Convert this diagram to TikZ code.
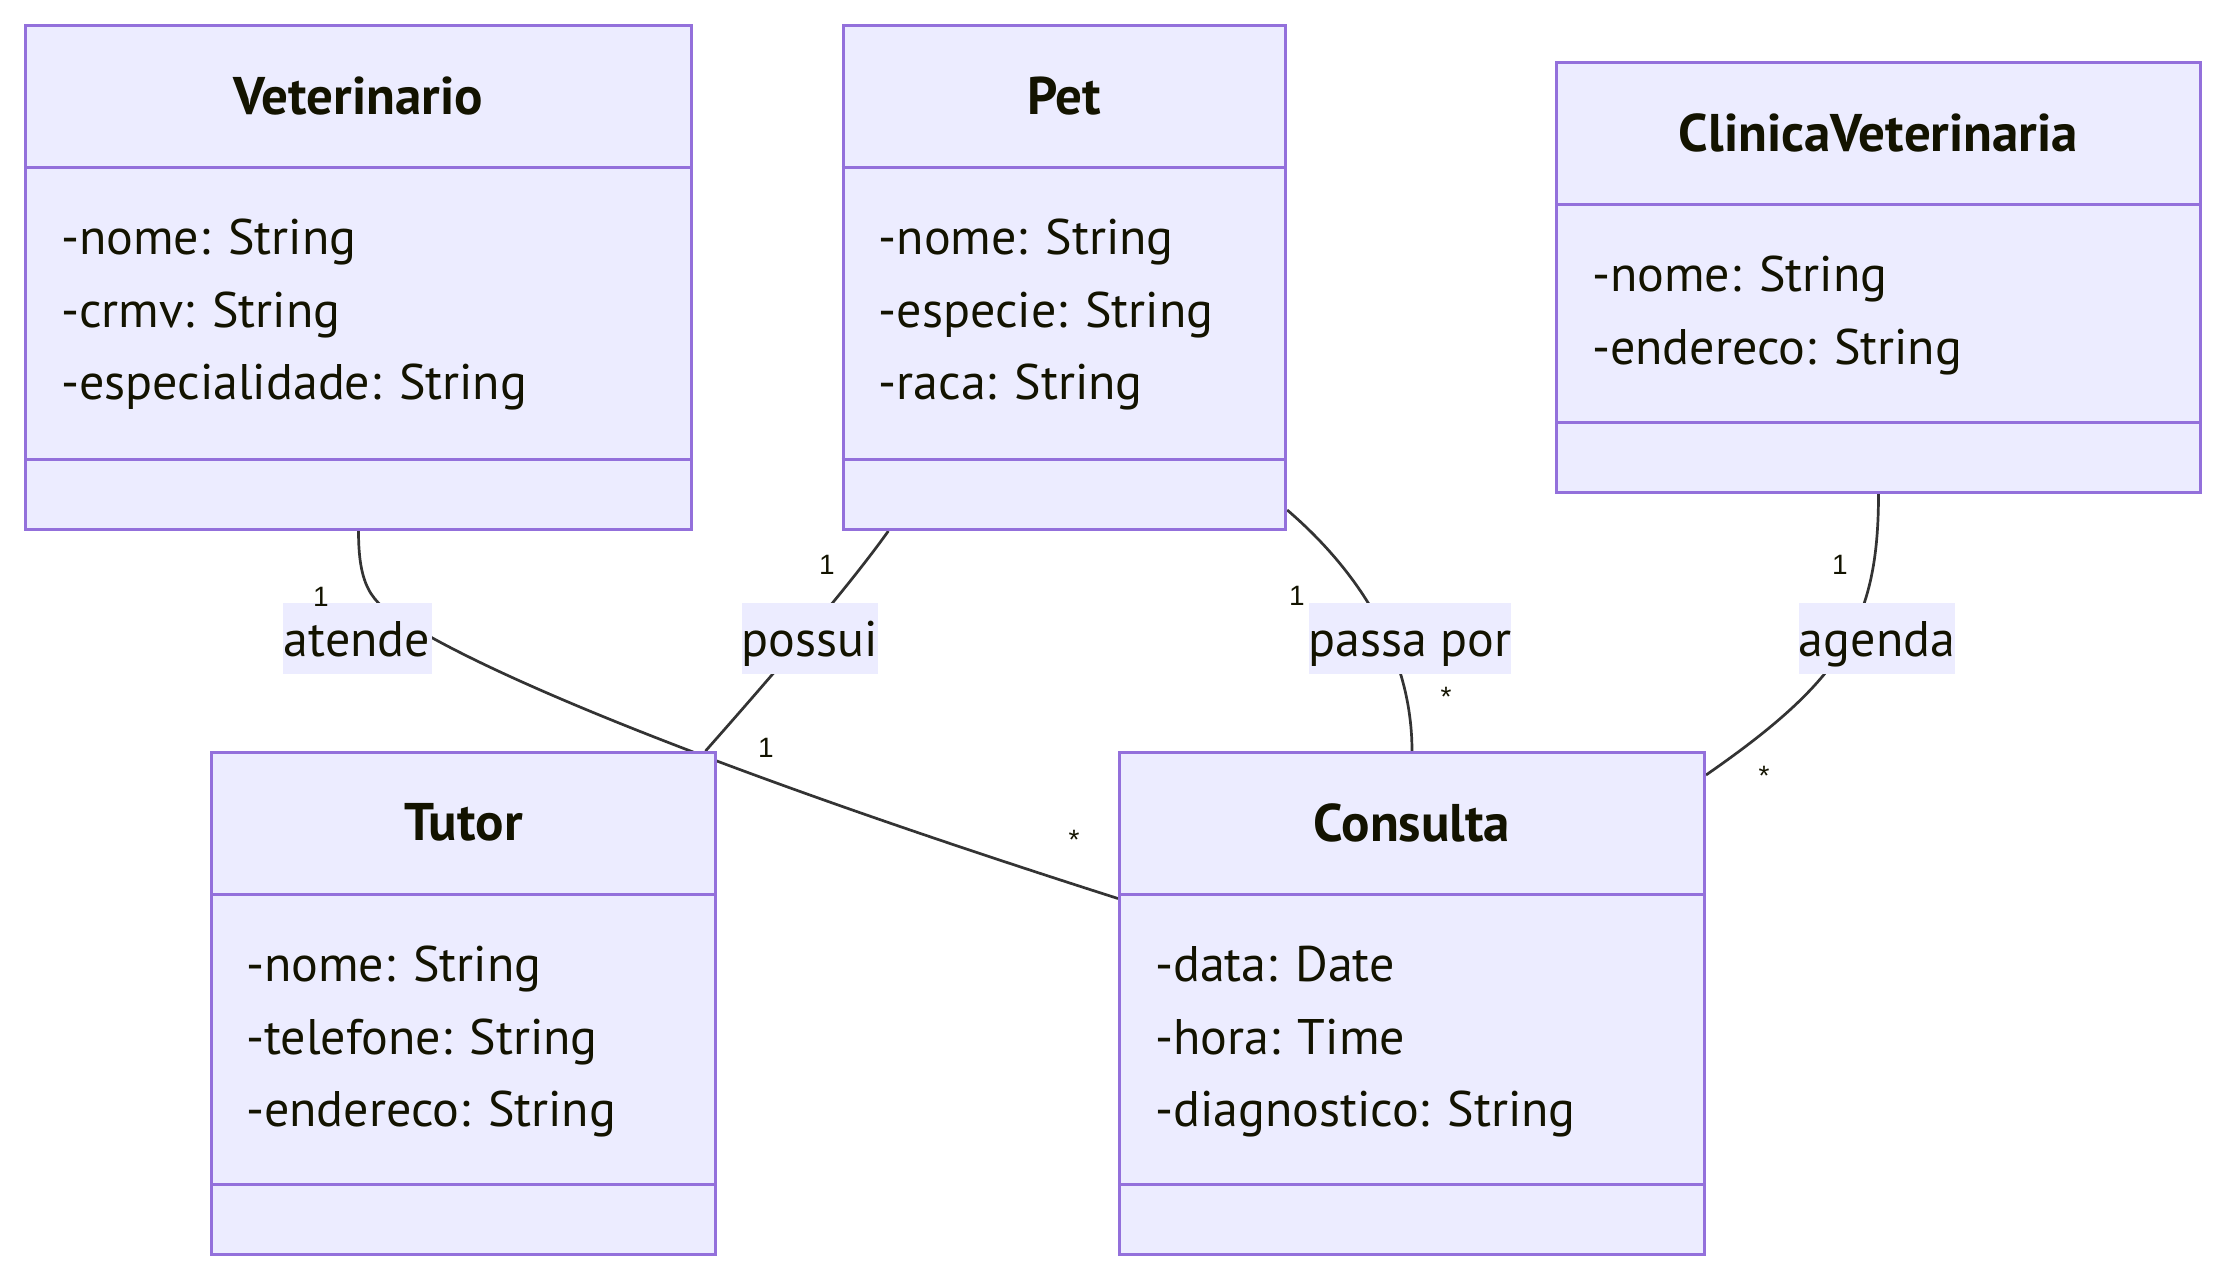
\documentclass[tikz,border=0pt]{standalone}
\usepackage{fontspec}
\setmainfont{PT Sans}
\newfontfamily\multfont{Liberation Sans}
\usetikzlibrary{positioning, backgrounds}
\definecolor{classfill}{HTML}{ECECFF}
\definecolor{classline}{HTML}{9370DB}
\definecolor{classtext}{HTML}{131300}
\definecolor{edgeline}{HTML}{333333}

\tikzset{
  classbox/.style={draw=classline, fill=classfill, line width=3pt, anchor=north west, inner sep=0pt},
  divider/.style={draw=classline, line width=3pt},
  classtitle/.style={text=classtext, font=\fontsize{53}{63}\selectfont\bfseries, inner sep=0pt},
  attr/.style={text=classtext, font=\fontsize{50}{60}\selectfont, anchor=west, inner sep=0pt,
    text height=37pt, text depth=12pt},
  assoc/.style={draw=edgeline, line width=2.7pt},
  assoclabel/.style={fill=classfill, text=classtext, font=\fontsize{50}{60}\selectfont, inner sep=0pt,
    text height=44pt, text depth=9pt, minimum height=71pt},
  mult/.style={text=classtext, font=\multfont\fontsize{28}{33}\selectfont, inner sep=0pt}
}

\begin{document}
\begin{tikzpicture}[x=1pt, y=-1pt]
    \useasboundingbox (0,0) rectangle (2225,1278);

    % Veterinario
    \node[classbox, minimum width=666pt, minimum height=504pt] (vet) at (24,24) {};
    \node[classtitle] (vet-t) at ([yshift=-71.6pt]vet.north) {Veterinario};
    \draw[divider] ([yshift=-143.3pt]vet.north west) -- ([yshift=-143.3pt]vet.north east);
    \draw[divider] ([yshift=71.5pt]vet.south west) -- ([yshift=71.5pt]vet.south east);
    \foreach \a [count=\i] in {{-nome: String}, {-crmv: String}, {-especialidade: String}}
        \node[attr] (vet-a\i) at ([xshift=37pt, yshift={-145.8-72.4*\i}]vet.north west) {\a};

    % Pet
    \node[classbox, minimum width=442.7pt, minimum height=504pt] (pet) at (841.5,24) {};
    \node[classtitle] (pet-t) at ([yshift=-71.6pt]pet.north) {Pet};
    \draw[divider] ([yshift=-143.3pt]pet.north west) -- ([yshift=-143.3pt]pet.north east);
    \draw[divider] ([yshift=71.5pt]pet.south west) -- ([yshift=71.5pt]pet.south east);
    \foreach \a [count=\i] in {{-nome: String}, {-especie: String}, {-raca: String}}
        \node[attr] (pet-a\i) at ([xshift=37pt, yshift={-145.8-72.4*\i}]pet.north west) {\a};

    % ClinicaVeterinaria
    \node[classbox, minimum width=644pt, minimum height=430pt] (clinic) at (1555,61) {};
    \node[classtitle] (clinic-t) at ([yshift=-71.6pt]clinic.north) {ClinicaVeterinaria};
    \draw[divider] ([yshift=-143.3pt]clinic.north west) -- ([yshift=-143.3pt]clinic.north east);
    \draw[divider] ([yshift=71.5pt]clinic.south west) -- ([yshift=71.5pt]clinic.south east);
    \foreach \a [count=\i] in {{-nome: String}, {-endereco: String}}
        \node[attr] (clinic-a\i) at ([xshift=37pt, yshift={-145.8-72.4*\i}]clinic.north west) {\a};

    % Tutor
    \node[classbox, minimum width=504pt, minimum height=502pt] (tutor) at (210,751) {};
    \node[classtitle] (tutor-t) at ([yshift=-71.6pt]tutor.north) {Tutor};
    \draw[divider] ([yshift=-143.3pt]tutor.north west) -- ([yshift=-143.3pt]tutor.north east);
    \draw[divider] ([yshift=71.5pt]tutor.south west) -- ([yshift=71.5pt]tutor.south east);
    \foreach \a [count=\i] in {{-nome: String}, {-telefone: String}, {-endereco: String}}
        \node[attr] (tutor-a\i) at ([xshift=36pt, yshift={-145.8-72.4*\i}]tutor.north west) {\a};

    % Consulta
    \node[classbox, minimum width=585pt, minimum height=502pt] (cons) at (1118,751) {};
    \node[classtitle] (cons-t) at ([yshift=-71.6pt]cons.north) {Consulta};
    \draw[divider] ([yshift=-143.3pt]cons.north west) -- ([yshift=-143.3pt]cons.north east);
    \draw[divider] ([yshift=71.5pt]cons.south west) -- ([yshift=71.5pt]cons.south east);
    \foreach \a [count=\i] in {{-data: Date}, {-hora: Time}, {-diagnostico: String}}
        \node[attr] (cons-a\i) at ([xshift=37pt, yshift={-145.8-72.4*\i}]cons.north west) {\a};

    % Associations (behind the boxes)
    \begin{scope}[on background layer]
        \draw[assoc] (vet.south) .. controls +(0,62) and +(-35,-20) .. (410,625)
            .. controls +(90,55) and +(-398,-127) .. ([yshift=105pt]cons.west);
        \draw[assoc] ([xshift=-176pt]pet.south) .. controls +(-37,52) and +(76,-86) .. ([xshift=242pt]tutor.north);
        \draw[assoc] ([yshift=21pt]pet.south east) .. controls +(56,48) and +(0,-111) .. (cons.north);
        \draw[assoc] (clinic.south) .. controls +(0,129) and +(137,-95) .. ([yshift=-24pt]cons.north east);
    \end{scope}

    % Association labels
    \node[assoclabel, minimum width=149pt] (atende) at (357,638.5) {atende};
    \node[assoclabel, minimum width=130.5pt] (possui) at (810,638.5) {possui};
    \node[assoclabel, minimum width=200pt] (passa) at (1410,638.5) {passa por};
    \node[assoclabel, minimum width=152pt] (agenda) at (1877,638.5) {agenda};

    % Multiplicities
    \node[mult] (m-vet) at (321,597) {1};
    \node[mult] (m-cons1) at (1074,840) {*};
    \node[mult] (m-pet1) at (827,565) {1};
    \node[mult] (m-tutor) at (766,748) {1};
    \node[mult] (m-pet2) at (1297,596) {1};
    \node[mult] (m-cons2) at (1446,697) {*};
    \node[mult] (m-clinic) at (1840,565) {1};
    \node[mult] (m-cons3) at (1764,776) {*};

\end{tikzpicture}
\end{document}
